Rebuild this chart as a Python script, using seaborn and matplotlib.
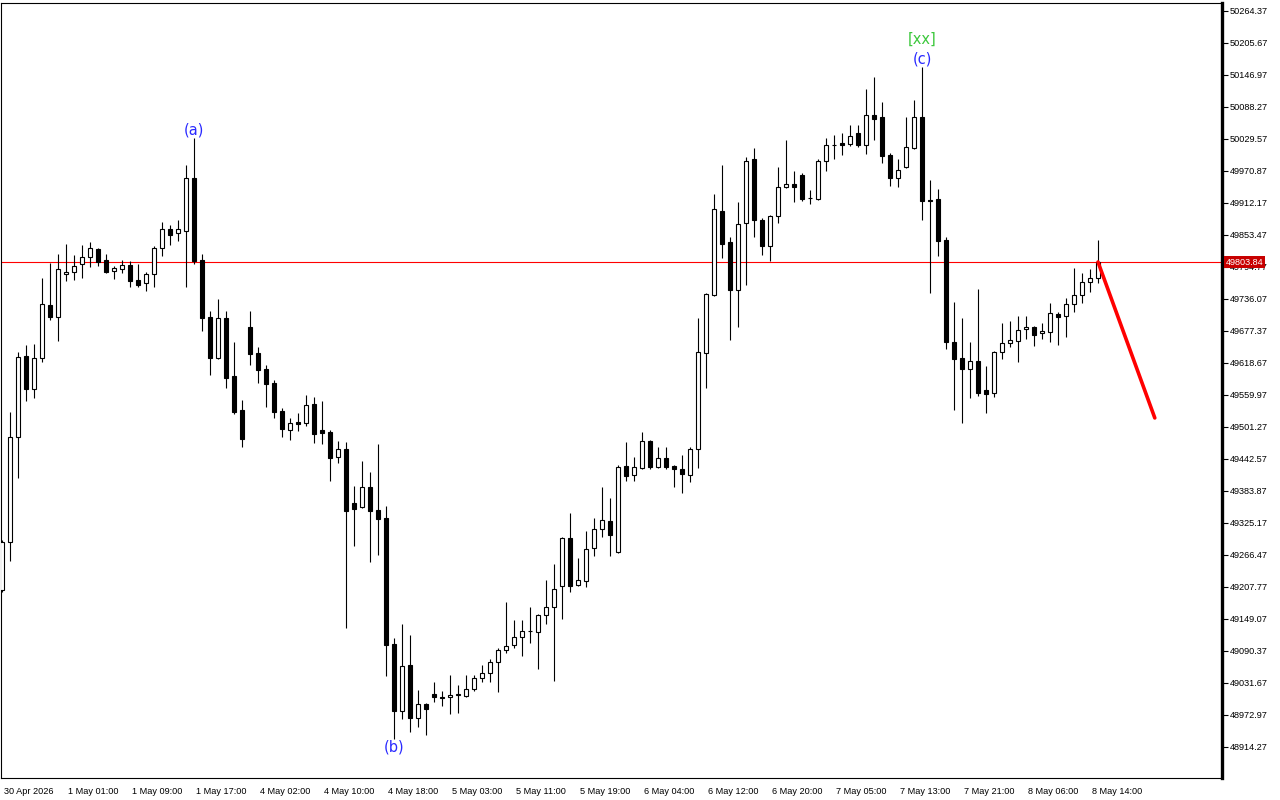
import matplotlib
matplotlib.use("Agg")
import matplotlib.pyplot as plt
import matplotlib.transforms as mtransforms
import pandas as pd
import seaborn as sns

# hourly candles
opens = [
    49202.0, 49290.3, 49482.9, 49631.5, 49570.9, 49627.8, 49725.0, 49703.0, 49781.9, 49785.5,
    49800.2, 49813.1, 49827.8, 49807.6, 49787.4, 49791.1, 49798.4, 49770.9, 49765.4, 49781.9,
    49829.6, 49864.4, 49857.1, 49860.7, 49958.0, 49807.6, 49703.0, 49627.8, 49701.2, 49594.8,
    49532.4, 49684.6, 49636.9, 49607.6, 49581.9, 49530.6, 49495.7, 49510.4, 49508.6, 49543.4,
    49495.7, 49492.0, 49446.2, 49460.9, 49361.8, 49354.5, 49391.1, 49349.0, 49334.3, 49103.1,
    48980.2, 49064.6, 48967.4, 48993.1, 49011.4, 49005.9, 49005.9, 49009.6, 49007.8, 49020.6,
    49040.8, 49050.0, 49070.1, 49092.1, 49101.3, 49116.0, 49127.5, 49125.2, 49156.4, 49171.0,
    49209.6, 49297.6, 49211.4, 49218.7, 49279.3, 49314.1, 49328.8, 49271.9, 49429.9, 49413.4,
    49426.2, 49475.6, 49428.0, 49444.3, 49429.9, 49424.4, 49413.4, 49460.9, 49636.9, 49743.3,
    49897.4, 49840.6, 49752.5, 49875.4, 49992.8, 49880.9, 49833.2, 49888.3, 49941.5, 49947.0,
    49963.5, 49921.3, 49919.5, 49989.2, 50018.5, 50022.2, 50020.3, 50040.5, 50018.5, 50073.5,
    50069.9, 50000.2, 49958.0, 49978.2, 50013.0, 50069.9, 49917.6, 49919.5, 49844.3, 49657.1,
    49627.8, 49607.6, 49622.3, 49569.1, 49563.6, 49638.8, 49655.3, 49659.0, 49681.0, 49684.6,
    49673.6, 49675.5, 49708.5, 49704.9, 49726.8, 49743.3, 49767.2, 49774.5,
]
highs = [
    49294.0, 49528.7, 49638.8, 49651.6, 49653.5, 49774.5, 49802.1, 49818.6, 49836.9, 49816.8,
    49835.1, 49840.6, 49829.6, 49818.6, 49796.5, 49807.6, 49805.7, 49800.2, 49785.5, 49833.2,
    49877.3, 49871.8, 49880.9, 49981.8, 50031.4, 49818.6, 49714.0, 49736.0, 49714.0, 49657.1,
    49550.7, 49714.0, 49647.9, 49614.9, 49587.4, 49536.1, 49517.7, 49526.9, 49559.9, 49556.2,
    49548.9, 49495.7, 49475.6, 49473.7, 49392.9, 49438.8, 49418.6, 49470.0, 49356.3, 49114.1,
    49139.8, 49119.6, 49018.8, 48994.9, 49033.4, 49016.9, 49046.2, 49028.0, 49046.2, 49046.2,
    49064.6, 49075.6, 49095.8, 49180.2, 49147.2, 49147.2, 49171.0, 49158.2, 49220.6, 49249.9,
    49299.5, 49343.4, 49260.9, 49310.5, 49334.3, 49391.1, 49370.9, 49431.7, 49473.7, 49446.2,
    49492.0, 49477.4, 49464.6, 49464.6, 49431.7, 49449.8, 49464.6, 49701.2, 49747.0, 49928.6,
    49981.8, 49849.7, 49914.0, 49996.5, 50013.0, 49884.6, 49890.1, 49978.2, 50027.7, 49970.8,
    49967.2, 49936.0, 49992.8, 50031.4, 50036.9, 50040.5, 50055.2, 50055.2, 50121.2, 50143.3,
    50097.4, 50003.8, 49992.8, 50069.9, 50101.1, 50161.6, 49954.3, 49937.8, 49849.7, 49730.5,
    49701.2, 49657.1, 49754.3, 49613.1, 49640.6, 49692.0, 49695.7, 49704.9, 49704.9, 49686.5,
    49692.0, 49728.7, 49712.2, 49737.8, 49792.9, 49783.7, 49791.1, 49844.3,
]
lows = [
    49198.5, 49255.4, 49407.7, 49548.9, 49554.4, 49620.5, 49697.5, 49659.0, 49769.0, 49770.9,
    49774.5, 49794.7, 49796.5, 49783.7, 49772.7, 49783.7, 49758.0, 49758.0, 49750.7, 49758.0,
    49814.9, 49835.1, 49842.4, 49758.0, 49800.2, 49677.3, 49596.6, 49626.0, 49572.7, 49525.1,
    49464.6, 49615.0, 49581.9, 49537.9, 49517.7, 49482.9, 49477.4, 49493.9, 49503.1, 49471.9,
    49470.0, 49402.2, 49435.2, 49132.5, 49282.9, 49352.7, 49253.6, 49266.4, 49044.4, 48928.9,
    48965.6, 48941.6, 48950.9, 48936.1, 48996.7, 48989.4, 48974.7, 48976.6, 49005.9, 49016.9,
    49033.4, 49033.4, 49015.1, 49086.6, 49095.8, 49081.1, 49105.0, 49057.3, 49139.8, 49035.3,
    49149.0, 49198.5, 49209.6, 49207.7, 49264.6, 49299.5, 49264.6, 49270.1, 49402.2, 49402.2,
    49424.4, 49424.4, 49426.2, 49424.4, 49391.1, 49380.1, 49400.3, 49426.2, 49572.7, 49741.5,
    49811.2, 49660.8, 49684.6, 49761.7, 49849.7, 49816.7, 49805.7, 49875.4, 49939.6, 49914.0,
    49915.8, 49910.3, 49917.6, 49970.8, 49992.8, 50000.2, 50016.7, 50014.8, 50002.0, 50027.7,
    49985.5, 49943.3, 49941.5, 49976.3, 50011.2, 49880.9, 49747.0, 49814.9, 49644.3, 49532.4,
    49508.6, 49554.4, 49558.1, 49526.9, 49556.2, 49625.9, 49647.9, 49620.5, 49662.7, 49650.5,
    49662.7, 49657.1, 49651.6, 49666.3, 49712.2, 49728.7, 49748.9, 49765.4,
]
closes = [
    49290.3, 49482.9, 49629.6, 49570.9, 49627.8, 49726.8, 49703.0, 49791.1, 49785.5, 49796.5,
    49813.1, 49829.6, 49803.9, 49785.5, 49792.9, 49798.4, 49769.0, 49761.7, 49781.9, 49829.6,
    49864.4, 49853.4, 49864.4, 49958.0, 49805.7, 49701.2, 49627.8, 49701.2, 49591.1, 49528.7,
    49479.3, 49635.1, 49605.7, 49580.1, 49528.7, 49497.6, 49508.6, 49506.7, 49541.6, 49488.4,
    49490.2, 49444.3, 49460.9, 49347.2, 49350.8, 49391.1, 49347.2, 49332.5, 49101.3, 48980.2,
    49062.8, 48967.4, 48993.1, 48983.9, 49005.9, 49004.1, 49009.6, 49010.5, 49020.6, 49040.8,
    49050.0, 49070.1, 49092.1, 49099.5, 49116.0, 49127.0, 49126.5, 49156.4, 49171.0, 49204.1,
    49297.6, 49209.6, 49220.6, 49277.4, 49314.1, 49330.6, 49303.1, 49428.0, 49411.6, 49428.0,
    49475.6, 49428.0, 49444.3, 49428.0, 49424.4, 49415.2, 49460.9, 49638.8, 49745.2, 49901.1,
    49836.9, 49752.5, 49873.6, 49989.2, 49880.9, 49833.2, 49888.3, 49941.5, 49947.0, 49941.5,
    49919.5, 49920.5, 49989.2, 50018.5, 50017.6, 50018.5, 50035.0, 50018.5, 50073.5, 50066.2,
    49998.3, 49958.0, 49972.7, 50014.8, 50069.9, 49915.8, 49915.8, 49842.4, 49657.1, 49625.9,
    49607.6, 49622.3, 49563.6, 49561.7, 49638.8, 49655.3, 49660.8, 49679.2, 49684.6, 49670.0,
    49677.3, 49710.3, 49703.0, 49726.8, 49743.3, 49767.2, 49774.5, 49803.84,
]

time_labels = ["30 Apr 2026", "1 May 01:00", "1 May 09:00", "1 May 17:00", "4 May 02:00",
               "4 May 10:00", "4 May 18:00", "5 May 03:00", "5 May 11:00", "5 May 19:00",
               "6 May 04:00", "6 May 12:00", "6 May 20:00", "7 May 05:00", "7 May 13:00",
               "7 May 21:00", "8 May 06:00", "8 May 14:00"]

price_ticks = [50264.37, 50205.67, 50146.97, 50088.27, 50029.57, 49970.87, 49912.17, 49853.47,
               49794.77, 49736.07, 49677.37, 49618.67, 49559.97, 49501.27, 49442.57, 49383.87,
               49325.17, 49266.47, 49207.77, 49149.07, 49090.37, 49031.67, 48972.97, 48914.27]

wave_labels = ["(a)", "(b)", "(c)"]
wave_bars = [24, 49, 115]
wave_side = ["top", "bottom", "top"]
degree_label = "[xx]"

forecast_bars = [137, 144.1]
forecast_prices = [49803.84, 49517.8]

df = pd.DataFrame({"open": opens, "high": highs, "low": lows, "close": closes})
df["bar"] = range(len(df))
df["up"] = df["close"] >= df["open"]

sns.set_style("white")
plt.rcParams["font.family"] = ["Liberation Sans", "DejaVu Sans"]

fig = plt.figure(figsize=(12.8, 8), dpi=100)
ax = fig.add_axes([1 / 1280, 22 / 800, 1221 / 1280, 775 / 800])

# wicks then bodies
ax.vlines(df["bar"], df["low"], df["high"], color="black", linewidth=0.8, zorder=2)
body_lo = df[["open", "close"]].min(axis=1)
body_h = (df["close"] - df["open"]).abs().clip(lower=0.9)
face = ["white" if u else "black" for u in df["up"]]
ax.bar(df["bar"], body_h, bottom=body_lo, width=0.6, color=face,
       edgecolor="black", linewidth=0.8, zorder=3)

# current price line + forecast stroke
last = closes[-1]
ax.axhline(last, color="red", linewidth=0.8, zorder=1)
sns.lineplot(x=forecast_bars, y=forecast_prices, color="red", linewidth=2.6, ax=ax, zorder=4)

# wave labels
for lab, b, side in zip(wave_labels, wave_bars, wave_side):
    if side == "top":
        ax.annotate(lab, (b, highs[b]), xytext=(0, 0.5), textcoords="offset points",
                    ha="center", va="bottom", color="#2a2aff", fontsize=10.5,
                    family="DejaVu Sans")
    else:
        ax.annotate(lab, (b, lows[b]), xytext=(0, -0.5), textcoords="offset points",
                    ha="center", va="top", color="#2a2aff", fontsize=10.5,
                    family="DejaVu Sans")
ax.annotate(degree_label, (wave_bars[2], highs[wave_bars[2]]), xytext=(0, 14.5),
            textcoords="offset points", ha="center", va="bottom", color="#3cc83c",
            fontsize=10.5, family="DejaVu Sans")

ax.set_xlim(-0.125, 152.5)
ax.set_ylim(48857.3, 50279.0)

ax.set_xticks(range(0, len(df), 8))
ax.set_xticklabels(time_labels, ha="left")
ax.set_yticks(price_ticks)
ax.set_yticklabels([f"{p:.2f}" for p in price_ticks])
ax.yaxis.tick_right()
ax.tick_params(axis="x", direction="out", length=5, width=0.8, pad=1.5, labelsize=6.6, colors="black")
ax.tick_params(axis="y", direction="out", length=4, width=0.8, pad=1.5, labelsize=6.6, colors="black")
for lbl in ax.get_xticklabels():
    lbl.set_transform(lbl.get_transform() + mtransforms.ScaledTranslation(2 / 100, 0, fig.dpi_scale_trans))

for side, sp in ax.spines.items():
    sp.set_color("black")
    sp.set_linewidth(0.8)
ax.spines["right"].set_linewidth(2.4)

# price tag on the axis (covers the 49794.77 label, as in the terminal)
tag = mtransforms.blended_transform_factory(ax.transAxes, ax.transData)
ax.text(1.0, last, f"{last:.2f}", transform=tag + mtransforms.ScaledTranslation(4 / 100, 0, fig.dpi_scale_trans),
        ha="left", va="center", color="white", fontsize=6.6, zorder=10, clip_on=False,
        bbox=dict(boxstyle="square,pad=0.2", fc="#c80000", ec="none"))

fig.savefig("out.png", dpi=100, facecolor="white")
